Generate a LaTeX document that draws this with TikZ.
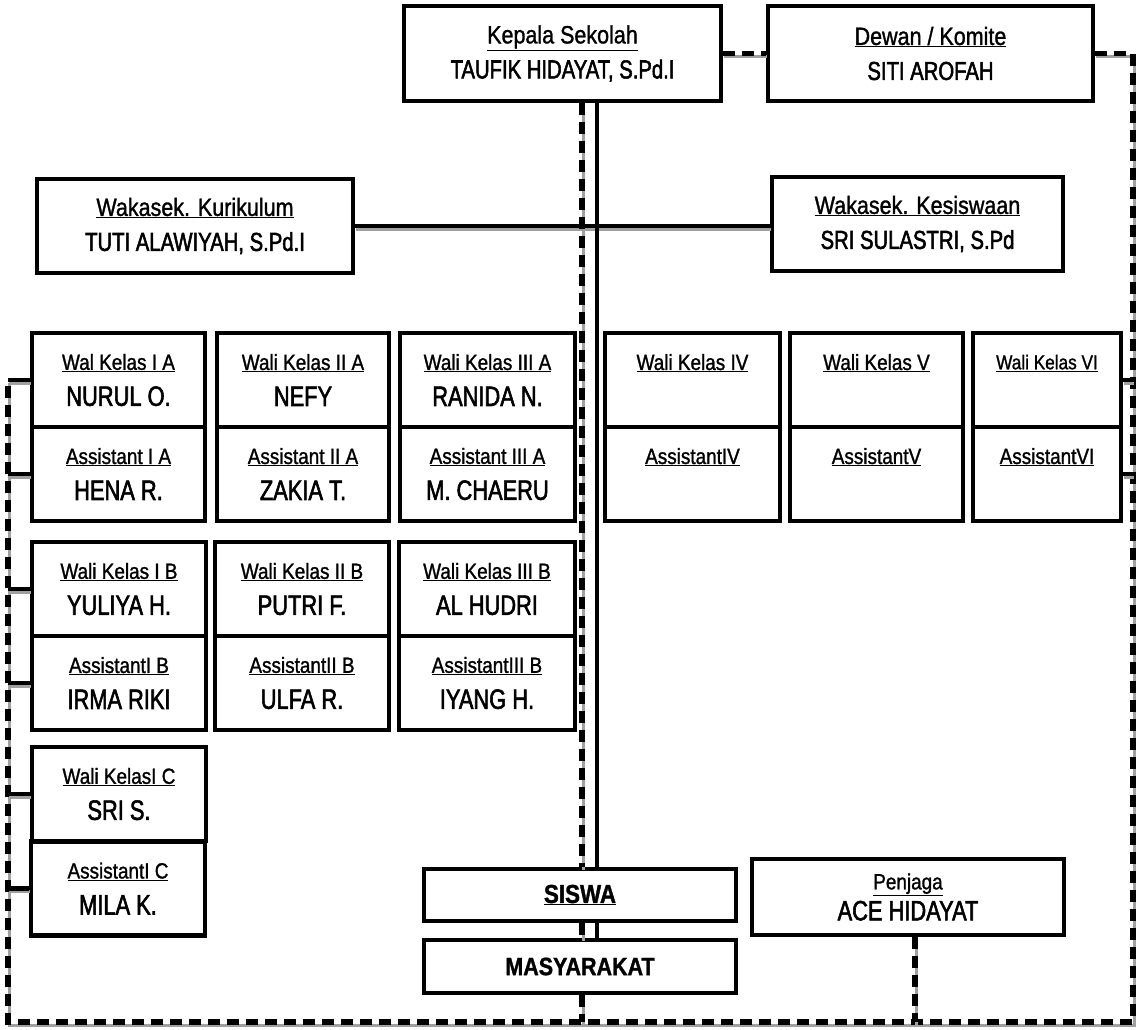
\documentclass[tikz,border=0pt]{standalone}
\usepackage{fontspec}
\setmainfont{Liberation Sans}[FakeStretch=0.86, FakeBold=1.2]
\newfontfamily\namefont{Liberation Sans}[FakeStretch=0.78, FakeBold=2]
\usetikzlibrary{positioning, calc}
\definecolor{Shade}{RGB}{160, 160, 160}

\newcommand{\lblsize}{\fontsize{22}{36}\selectfont}
\newcommand{\namesize}{\namefont\fontsize{28}{36}\selectfont}
\newcommand{\headname}{\namefont\fontsize{26}{35}\selectfont}

\tikzset{
  orgbox/.style={draw, line width=4.5pt, fill=white, inner sep=0pt, align=center},
  headbox/.style={orgbox, font=\fontsize{25}{35}\selectfont, minimum height=95pt},
  classbox/.style={orgbox, font=\lblsize, minimum height=94pt},
  solidlink/.style={line width=4.5pt, preaction={draw=Shade, solid, line width=3pt, transform canvas={shift={(1pt,-3pt)}}}},
  dashlink/.style={solidlink, line width=5.5pt, dash pattern=on 12pt off 7pt}
}

\begin{document}
\begin{tikzpicture}[x=1pt, y=-1pt]
  \useasboundingbox (0,0) rectangle (1141,1029);

  % top level
  \node[headbox, minimum width=317pt] (kepala) at (562.5,53.5) {\underline{Kepala Sekolah}\\{\headname TAUFIK HIDAYAT, S.Pd.I}};
  \node[headbox, minimum width=325pt] (dewan) at (930.5,53.5) {\underline{Dewan / Komite}\\{\headname SITI AROFAH}};

  % wakasek
  \node[headbox, minimum width=316pt, minimum height=94pt] (kurikulum) at (195,226) {\underline{Wakasek. Kurikulum}\\{\headname TUTI ALAWIYAH, S.Pd.I}};
  \node[headbox, minimum width=291pt, minimum height=94pt] (kesiswaan) at (917.5,224) {\underline{Wakasek. Kesiswaan}\\{\headname SRI SULASTRI, S.Pd}};

  % kelas A
  \node[classbox, minimum width=173pt] (waliIA) at (118.5,380) {\underline{Wal Kelas I A}\\{\namesize NURUL O.}};
  \node[classbox, minimum width=173pt] (asstIA) at (118.5,474) {\underline{Assistant I A}\\{\namesize HENA R.}};
  \node[classbox, minimum width=172pt] (waliIIA) at (303,380) {\underline{Wali Kelas II A}\\{\namesize NEFY}};
  \node[classbox, minimum width=172pt] (asstIIA) at (303,474) {\underline{Assistant II A}\\{\namesize ZAKIA T.}};
  \node[classbox, minimum width=175pt] (waliIIIA) at (487.5,380) {\underline{Wali Kelas III A}\\{\namesize RANIDA N.}};
  \node[classbox, minimum width=175pt] (asstIIIA) at (487.5,474) {\underline{Assistant III A}\\{\namesize M. CHAERU}};

  % kelas IV - VI
  \node[classbox, minimum width=175pt] (waliIV) at (692.5,380) {\underline{Wali Kelas IV}\\{\namesize\phantom{X}}};
  \node[classbox, minimum width=175pt] (asstIV) at (692.5,474) {\underline{AssistantIV}\\{\namesize\phantom{X}}};
  \node[classbox, minimum width=173pt] (waliV) at (876.5,380) {\underline{Wali Kelas V}\\{\namesize\phantom{X}}};
  \node[classbox, minimum width=173pt] (asstV) at (876.5,474) {\underline{AssistantV}\\{\namesize\phantom{X}}};
  \node[classbox, minimum width=148pt, font=\fontsize{20}{36}\selectfont] (waliVI) at (1047,380) {\underline{Wali Kelas VI}\\{\namesize\phantom{X}}};
  \node[classbox, minimum width=148pt] (asstVI) at (1047,474) {\underline{AssistantVI}\\{\namesize\phantom{X}}};

  % kelas B
  \node[classbox, minimum width=174pt] (waliIB) at (119,589) {\underline{Wali Kelas I B}\\{\namesize YULIYA H.}};
  \node[classbox, minimum width=174pt] (asstIB) at (119,683) {\underline{AssistantI B}\\{\namesize IRMA RIKI}};
  \node[classbox, minimum width=174pt] (waliIIB) at (302,589) {\underline{Wali Kelas II B}\\{\namesize PUTRI F.}};
  \node[classbox, minimum width=174pt] (asstIIB) at (302,683) {\underline{AssistantII B}\\{\namesize ULFA R.}};
  \node[classbox, minimum width=176pt] (waliIIIB) at (487,589) {\underline{Wali Kelas III B}\\{\namesize AL HUDRI}};
  \node[classbox, minimum width=176pt] (asstIIIB) at (487,683) {\underline{AssistantIII B}\\{\namesize IYANG H.}};

  % kelas C
  \node[classbox, minimum width=174pt] (waliIC) at (119,794) {\underline{Wali KelasI C}\\{\namesize SRI S.}};
  \node[classbox, minimum width=174pt] (asstIC) at (118,888.5) {\underline{AssistantI C}\\{\namesize MILA K.}};

  % bottom
  \node[orgbox, minimum width=312pt, minimum height=52pt, font=\fontsize{26}{30}\selectfont\bfseries] (siswa) at (580,895) {\underline{SISWA}};
  \node[orgbox, minimum width=312pt, minimum height=53pt, font=\fontsize{25}{30}\selectfont\bfseries] (masyarakat) at (580,966.5) {MASYARAKAT};
  \node[orgbox, minimum width=312pt, minimum height=76pt, font=\fontsize{22}{31}\selectfont] (penjaga) at (908,897) {\underline{Penjaga}\\{\namefont\fontsize{28}{31}\selectfont ACE HIDAYAT}};

  \coordinate (lft) at (8,1022);
  \coordinate (rgt) at (1133,1022);
  \coordinate (dline) at (582,1022);
  \coordinate (sline) at (597,1022);
  \coordinate (pline) at (915,1022);

  % connectors
  \draw[dashlink] (kepala.east) -- (dewan.west);
  \draw[dashlink] (dewan.east) -- (dewan.east -| rgt) -- (rgt) -- (lft) -- (waliIA.west -| lft);
  \draw[solidlink] (kurikulum.east) -- (kurikulum.east -| kesiswaan.west);

  \draw[dashlink] (kepala.south -| dline) -- (siswa.north -| dline);
  \draw[dashlink] (siswa.south -| dline) -- (masyarakat.north -| dline);
  \draw[dashlink] (masyarakat.south -| dline) -- (dline);
  \draw[line width=4.5pt] (kepala.south -| sline) -- (siswa.north -| sline);
  \draw[line width=4.5pt] (siswa.south -| sline) -- (masyarakat.north -| sline);

  \draw[dashlink] (penjaga.south -| pline) -- (pline);

  \foreach \b in {waliIA, asstIA, waliIB, asstIB, waliIC, asstIC}
    \draw[solidlink] (\b.west) -- (\b.west -| lft);
  \foreach \b in {waliVI, asstVI}
    \draw[solidlink] (\b.east) -- (\b.east -| rgt);
\end{tikzpicture}
\end{document}
